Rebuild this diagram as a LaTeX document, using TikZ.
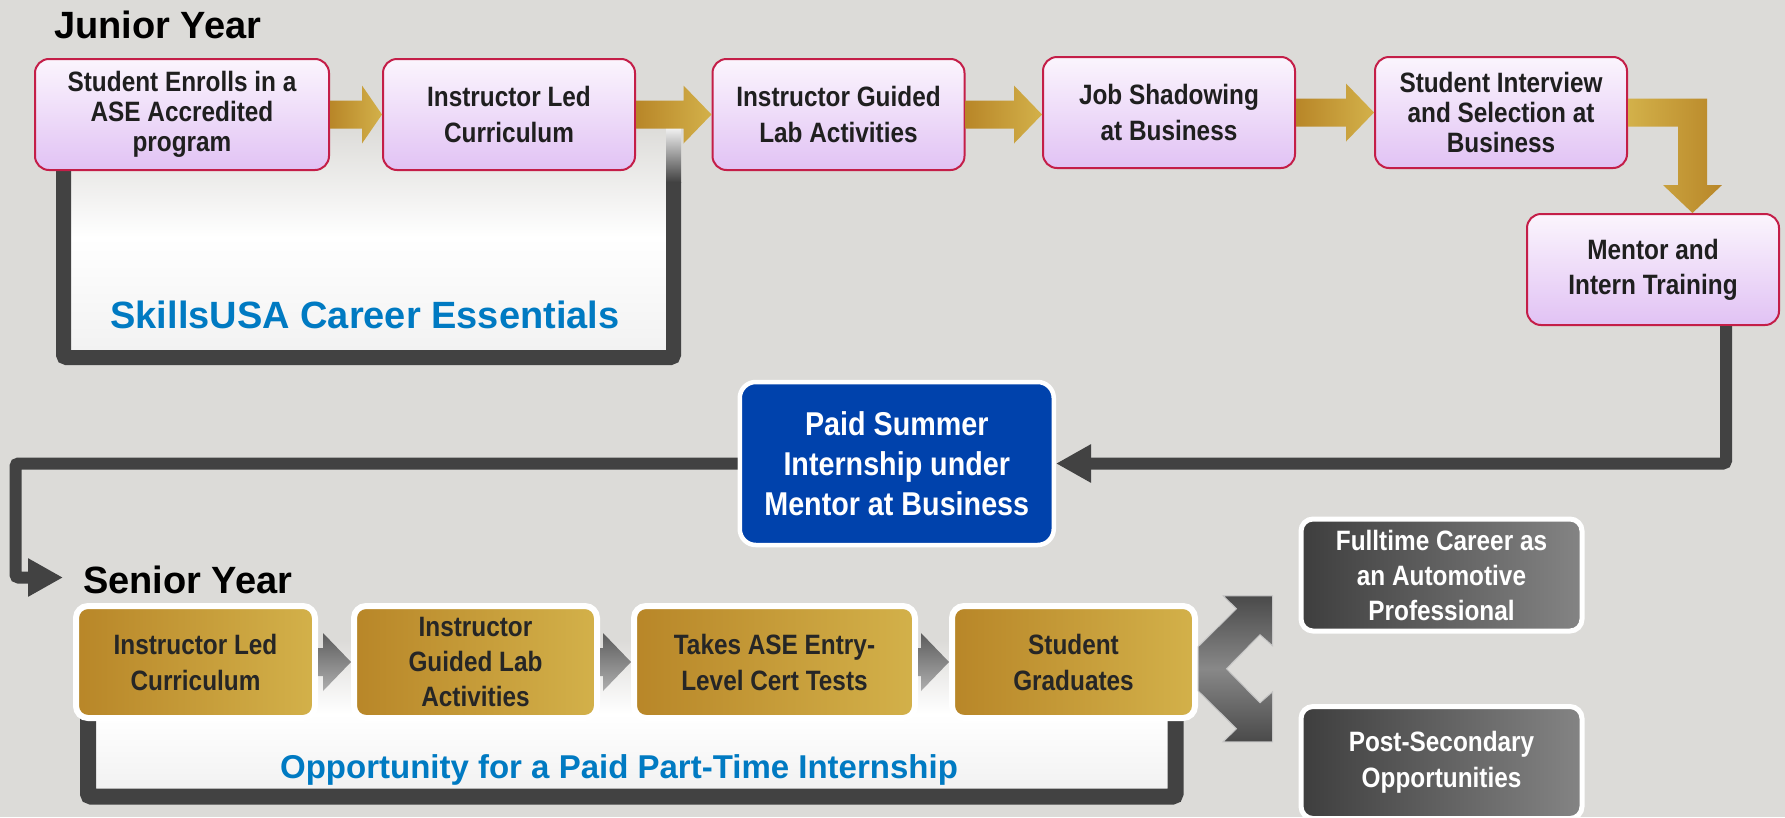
\documentclass[tikz,border=0pt]{standalone}
\usepackage{fontspec}
\setmainfont{Liberation Sans}
\newfontfamily\boxfont{Liberation Sans}[FakeStretch=0.87]
\usetikzlibrary{calc, arrows.meta}

\definecolor{bgcol}{RGB}{220,219,216}
\definecolor{linegray}{RGB}{66,66,66}
\definecolor{golddark}{RGB}{184,134,40}
\definecolor{goldlight}{RGB}{211,177,74}
\definecolor{lilactop}{RGB}{251,245,253}
\definecolor{lilacbot}{RGB}{225,194,244}
\definecolor{crimson}{RGB}{196,30,72}
\definecolor{paidblue}{RGB}{0,66,172}
\definecolor{capblue}{RGB}{0,122,194}
\definecolor{slatedark}{RGB}{62,62,62}
\definecolor{slatelight}{RGB}{132,132,132}
\definecolor{paneltail}{RGB}{242,242,242}
\definecolor{stagedark}{RGB}{92,92,92}
\definecolor{stagelight}{RGB}{175,175,175}
\definecolor{forkdark}{RGB}{74,74,74}
\definecolor{forklight}{RGB}{136,136,136}

\newcommand\boxsize[2]{\boxfont\bfseries\fontsize{#1}{#2}\selectfont}
\newcommand\capsize[1]{\bfseries\fontsize{#1}{#1}\selectfont}

% gold block arrow between two nodes, #3 = head length
\newcommand\goldarrow[3]{%
  \shade[left color=golddark, right color=goldlight]
    let \p1=(#1.east), \p2=(#2.west) in
    (\x1,{\y1+14pt}) -- ({\x2-#3},{\y1+14pt}) -- ({\x2-#3},{\y1+29pt}) -- (\x2,\y1)
    -- ({\x2-#3},{\y1-29pt}) -- ({\x2-#3},{\y1-14pt}) -- (\x1,{\y1-14pt}) -- cycle;}
% grey block arrow between senior boxes
\newcommand\stagearrow[2]{%
  \shade[top color=stagedark, bottom color=stagelight]
    let \p1=(#1.east), \p2=(#2.west) in
    (\x1,{\y1+14pt}) -- ({\x2-28pt},{\y1+14pt}) -- ({\x2-28pt},{\y1+29pt}) -- (\x2,\y1)
    -- ({\x2-28pt},{\y1-29pt}) -- ({\x2-28pt},{\y1-14pt}) -- (\x1,{\y1-14pt}) -- cycle;}

\tikzset{
  jbox/.style={rounded corners=14pt, draw=crimson, line width=2pt,
    top color=lilactop, bottom color=lilacbot,
    minimum width=252pt, minimum height=111pt, inner sep=0pt,
    align=center, text=black!88, font=\boxsize{28}{36}},
  sbox/.style={rounded corners=12pt, draw=white, line width=6pt,
    left color=golddark, right color=goldlight,
    minimum width=239pt, minimum height=112pt, inner sep=0pt,
    align=center, text=black!85, font=\boxsize{28}{36}},
  obox/.style={rounded corners=12pt, draw=white, line width=5pt,
    left color=slatedark, right color=slatelight,
    minimum width=281pt, minimum height=112pt, inner sep=0pt,
    align=center, text=white, font=\boxsize{28}{36}},
  paidbox/.style={rounded corners=16pt, draw=white, line width=4.5pt,
    fill=paidblue, minimum width=314pt, minimum height=163pt, inner sep=0pt,
    align=center, text=white, font=\boxsize{33}{40}},
  yearlabel/.style={anchor=base west, inner sep=0pt, font=\capsize{38}},
  bandlabel/.style={anchor=base, inner sep=0pt, text=capblue, font=\capsize{38}},
  loopline/.style={draw=linegray, line width=15pt, rounded corners=3pt},
  feedline/.style={draw=linegray, line width=12pt, rounded corners=3pt,
    -{Triangle[length=35pt,width=36pt]}}
}

\begin{document}
\begin{tikzpicture}[x=1pt, y=-1pt]
  \useasboundingbox (0,0) rectangle (1785,817);
  \fill[bgcol] (0,0) rectangle (1785,817);

  % white bands behind the rows
  \shade[top color=bgcol, bottom color=paneltail, middle color=white] (71,125) rectangle (666,350);
  \draw[loopline] (63.5,165) |- (673.5,357.5) -- (673.5,182);
  \shade[top color=paneltail, bottom color=linegray] (666,128) rectangle (681,182);
  \shade[top color=bgcol, bottom color=paneltail, middle color=white] (96,640) rectangle (1168,788);
  \draw[loopline, line width=16pt] (88,712) |- (1175.5,796.5) -- (1175.5,712);

  % junior year
  \node[yearlabel] (junior) at (54,38) {Junior Year};
  \node[jbox, minimum width=294pt, font=\boxsize{28}{30}] (enroll) at (182,114.5) {Student Enrolls in a\\ASE Accredited\\program};
  \node[jbox] (led) at (509,114.5) {Instructor Led\\Curriculum};
  \node[jbox] (guided) at (838.5,114.5) {Instructor Guided\\Lab Activities};
  \node[jbox] (shadow) at (1169,112.5) {Job Shadowing\\at Business};
  \node[jbox, font=\boxsize{28}{30}] (interview) at (1501,112.5) {Student Interview\\and Selection at\\Business};
  \node[jbox, font=\boxsize{28}{35}] (mentor) at (1653,269.5) {Mentor and\\Intern Training};
  \node[bandlabel] (essentials) at (365,328) {SkillsUSA Career Essentials};

  % summer
  \node[paidbox] (paid) at (896.75,463.5) {Paid Summer\\Internship under\\Mentor at Business};

  % senior year
  \node[yearlabel] (senior) at (83,593) {Senior Year};
  \node[sbox] (sled) at (195.5,662) {Instructor Led\\Curriculum};
  \node[sbox, minimum width=243pt, font=\boxsize{28}{35}] (sguided) at (475.5,662) {Instructor\\Guided Lab\\Activities};
  \node[sbox, minimum width=281pt] (cert) at (774.5,662) {Takes ASE Entry-\\Level Cert Tests};
  \node[sbox, minimum width=243pt] (grad) at (1073.5,662) {Student\\Graduates};
  \node[bandlabel, font=\capsize{33}] (parttime) at (619,778) {Opportunity for a Paid Part-Time Internship};

  % outcomes
  \node[obox, font=\boxsize{28}{35}] (career) at (1441.5,575) {Fulltime Career as\\an Automotive\\Professional};
  \node[obox] (postsec) at (1441.5,762.5) {Post-Secondary\\Opportunities};

  % gold arrows, junior row
  \goldarrow{enroll}{led}{20pt}
  \goldarrow{led}{guided}{28pt}
  \goldarrow{guided}{shadow}{28pt}
  \goldarrow{shadow}{interview}{28pt}
  \shade[left color=goldlight, right color=golddark]
    let \p1=(interview.east), \p2=([xshift=39.5pt]mentor.north) in
    (\x1,{\y1+14pt}) -- ({\x2+14.5pt},{\y1+14pt}) -- ({\x2+14.5pt},{\y2+28pt})
    -- ({\x2+29.5pt},{\y2+28pt}) -- (\x2,\y2) -- ({\x2-29.5pt},{\y2+28pt})
    -- ({\x2-14.5pt},{\y2+28pt}) -- ({\x2-14.5pt},{\y1-14pt}) -- (\x1,{\y1-14pt}) -- cycle;

  % grey arrows, senior row
  \stagearrow{sled}{sguided}
  \stagearrow{sguided}{cert}
  \stagearrow{cert}{grad}

  % split towards the two outcomes
  \coordinate (fork) at ($(grad.east |- career.south)!0.5!(grad.east |- postsec.north)$);
  \begin{scope}[shift={(fork)}]
    \path[top color=forkdark, bottom color=forkdark, middle color=forklight,
          draw=white!55!gray, line width=1pt]
      (0,-22) -- (38.5,-60) -- (25,-73) -- (74.5,-73) -- (74.5,-23) -- (62,-34)
      -- (28.5,0) -- (62,34) -- (74.5,23) -- (74.5,73) -- (25,73) -- (38.5,60)
      -- (0,22) -- cycle;
  \end{scope}

  % dark feedback lines
  \coordinate (bend) at (15.5,577.5);
  \coordinate (senin) at (63,577.5);
  \draw[feedline] ([xshift=73pt]mentor.south) |- (paid.east);
  \draw[feedline] (paid.west) -| (bend) -- (senin);
\end{tikzpicture}
\end{document}
